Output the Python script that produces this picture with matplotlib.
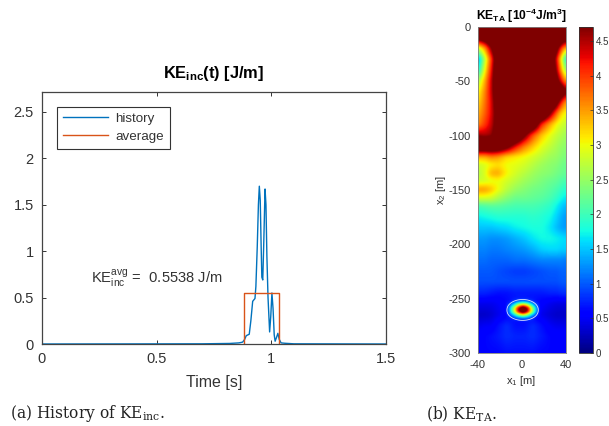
import numpy as np
import matplotlib
matplotlib.use('Agg')
import matplotlib.pyplot as plt

plt.rcParams['font.family'] = ['Liberation Sans', 'DejaVu Sans']
plt.rcParams['mathtext.fontset'] = 'custom'
plt.rcParams['mathtext.rm'] = 'Liberation Sans'
plt.rcParams['mathtext.bf'] = 'Liberation Sans:bold'
plt.rcParams['mathtext.default'] = 'regular'

# history of KE_inc
hist_t = [0, 0.4, 0.7, 0.82, 0.86, 0.876, 0.885, 0.892, 0.905, 0.912, 0.92, 0.93, 0.934, 0.94, 0.945, 0.949,
          0.953, 0.957, 0.96, 0.964, 0.968, 0.974, 0.978, 0.982, 0.987, 0.994, 0.999, 1.004, 1.009, 1.014,
          1.018, 1.024, 1.03, 1.036, 1.044, 1.06, 1.1, 1.5]
hist_v = [0, 0.001, 0.002, 0.006, 0.012, 0.02, 0.05, 0.09, 0.105, 0.25, 0.46, 0.49, 0.62, 1.05, 1.5, 1.70,
          1.55, 1.05, 0.72, 0.69, 1.05, 1.67, 1.5, 0.95, 0.5, 0.13, 0.3, 0.55, 0.38, 0.1,
          0.03, 0.07, 0.115, 0.05, 0.012, 0.008, 0.002, 0]
avg_t = [0.88, 0.88, 1.037, 1.037]
avg_v = [0, 0.5538, 0.5538, 0]

# KE_TA field, in 1e-4 J/m3
field_x = [-40, -34, -28, -22, -14, -6, 2, 10, 18, 26, 32, 36, 40]
field_y = [0, -10, -15, -20, -30, -40, -50, -60, -70, -80, -90, -100, -110, -120, -127, -135, -142, -150, -158,
           -165, -175, -185, -195, -205, -215, -225, -235, -245, -255, -265, -275, -285, -300]
field = [
    [6.0, 6.0, 6.0, 6.0, 6.0, 6.0, 6.0, 6.0, 6.0, 6.0, 6.0, 6.0, 6.0],
    [5.2, 5.6, 6.0, 6.0, 6.0, 6.0, 6.0, 6.0, 6.0, 6.0, 6.0, 5.6, 5.6],
    [4.0, 4.5, 5.3, 6.0, 6.0, 6.0, 6.0, 6.0, 6.0, 6.0, 5.6, 4.9, 4.4],
    [2.8, 3.5, 4.7, 5.8, 6.0, 6.0, 6.0, 6.0, 6.0, 6.0, 5.0, 4.0, 3.4],
    [1.3, 2.7, 4.0, 5.5, 6.0, 6.0, 6.0, 6.0, 6.0, 5.6, 4.2, 3.0, 1.8],
    [1.7, 3.0, 4.2, 5.6, 6.0, 6.0, 6.0, 6.0, 6.0, 5.6, 4.5, 3.4, 2.5],
    [2.6, 3.4, 4.4, 5.6, 6.0, 6.0, 6.0, 6.0, 6.0, 6.0, 5.0, 4.2, 3.5],
    [3.0, 3.6, 4.4, 5.5, 6.0, 6.0, 6.0, 6.0, 6.0, 6.0, 6.0, 5.6, 4.9],
    [3.2, 3.7, 4.3, 5.3, 6.0, 6.0, 6.0, 6.0, 6.0, 6.0, 5.0, 4.1, 3.5],
    [3.4, 3.8, 4.3, 5.1, 6.0, 6.0, 6.0, 6.0, 6.0, 4.7, 3.7, 3.2, 3.0],
    [3.6, 4.0, 4.4, 5.1, 6.0, 6.0, 6.0, 5.6, 4.1, 3.4, 3.0, 2.85, 2.75],
    [4.6, 4.5, 4.6, 5.3, 6.0, 6.0, 4.9, 3.9, 3.3, 2.95, 2.75, 2.65, 2.55],
    [5.7, 5.7, 5.7, 5.6, 5.1, 4.3, 3.7, 3.3, 2.95, 2.75, 2.6, 2.5, 2.45],
    [3.4, 3.4, 3.6, 3.5, 3.2, 3.1, 3.0, 2.85, 2.7, 2.55, 2.5, 2.4, 2.35],
    [2.8, 2.9, 3.05, 3.15, 3.0, 2.95, 2.85, 2.7, 2.55, 2.45, 2.4, 2.3, 2.25],
    [2.65, 2.9, 3.4, 3.45, 3.05, 2.85, 2.7, 2.55, 2.45, 2.4, 2.3, 2.25, 2.2],
    [2.8, 2.85, 2.95, 3.0, 2.85, 2.7, 2.55, 2.45, 2.35, 2.25, 2.2, 2.1, 2.05],
    [3.5, 3.5, 3.3, 3.0, 2.7, 2.5, 2.4, 2.3, 2.25, 2.15, 2.05, 1.95, 1.85],
    [2.85, 2.85, 2.8, 2.6, 2.4, 2.25, 2.25, 2.2, 2.15, 2.05, 1.9, 1.75, 1.65],
    [2.05, 2.1, 2.15, 2.15, 2.1, 2.05, 2.05, 2.05, 2.0, 1.9, 1.7, 1.55, 1.45],
    [1.7, 1.75, 1.8, 1.85, 1.85, 1.85, 1.85, 1.9, 1.85, 1.75, 1.55, 1.4, 1.3],
    [1.5, 1.5, 1.5, 1.55, 1.6, 1.7, 1.75, 1.8, 1.8, 1.65, 1.45, 1.35, 1.3],
    [1.3, 1.3, 1.25, 1.25, 1.3, 1.4, 1.5, 1.65, 1.75, 1.75, 1.7, 1.65, 1.6],
    [1.2, 1.2, 1.15, 1.15, 1.2, 1.25, 1.3, 1.4, 1.55, 1.6, 1.6, 1.55, 1.55],
    [1.1, 1.1, 1.05, 1.05, 1.05, 1.1, 1.1, 1.15, 1.2, 1.2, 1.2, 1.2, 1.15],
    [1.0, 1.0, 1.0, 0.95, 0.9, 0.85, 0.85, 0.9, 0.95, 1.0, 1.0, 1.05, 1.05],
    [0.95, 0.95, 0.95, 0.95, 0.95, 0.95, 0.95, 0.95, 0.95, 0.95, 0.95, 1.0, 1.0],
    [0.75, 0.75, 0.7, 0.65, 0.65, 0.7, 0.7, 0.7, 0.7, 0.75, 0.75, 0.8, 0.8],
    [0.45, 0.45, 0.45, 0.5, 0.6, 0.7, 0.7, 0.65, 0.55, 0.45, 0.4, 0.4, 0.4],
    [0.3, 0.3, 0.35, 0.45, 0.55, 0.65, 0.65, 0.55, 0.45, 0.35, 0.3, 0.3, 0.3],
    [0.45, 0.5, 0.5, 0.65, 0.8, 0.65, 0.65, 0.8, 0.65, 0.5, 0.45, 0.45, 0.45],
    [0.6, 0.6, 0.65, 0.7, 0.8, 0.75, 0.75, 0.8, 0.7, 0.6, 0.6, 0.6, 0.6],
    [0.6, 0.6, 0.6, 0.6, 0.65, 0.65, 0.65, 0.65, 0.6, 0.6, 0.6, 0.6, 0.6],
]

# focal spot, added on top of the field
spot_x = [-15, -11, -7, -3, 1, 5, 9, 13, 17]
spot_y = [-250, -253, -256, -259, -262, -265, -268, -271]
spot = [
    [0, 0, 0, 0, 0, 0, 0, 0, 0],
    [0, 0, 0.2, 0.45, 0.6, 0.45, 0.2, 0, 0],
    [0, 0.4, 1.1, 2.2, 2.8, 2.2, 1.1, 0.4, 0],
    [0, 0.8, 2.2, 3.9, 4.8, 3.9, 2.2, 0.8, 0],
    [0, 0.8, 2.2, 3.9, 4.8, 3.9, 2.2, 0.8, 0],
    [0, 0.4, 1.0, 1.9, 2.5, 1.9, 1.0, 0.4, 0],
    [0, 0, 0.2, 0.4, 0.5, 0.4, 0.2, 0, 0],
    [0, 0, 0, 0, 0, 0, 0, 0, 0],
]


def resample(table, x, y, xf, yf):
    # bilinear onto the fine grid, y lists run downwards
    table = np.array(table, dtype=float)
    cols = np.array([np.interp(-yf, -np.array(y), table[:, j]) for j in range(table.shape[1])]).T
    return np.array([np.interp(xf, x, row) for row in cols])


def smooth(a, n):
    k = np.ones(n) / n
    pad = n
    b = np.pad(a, pad, mode='edge')
    for _ in range(2):
        b = np.apply_along_axis(lambda r: np.convolve(r, k, mode='same'), 0, b)
        b = np.apply_along_axis(lambda r: np.convolve(r, k, mode='same'), 1, b)
    return b[pad:-pad, pad:-pad]


xf = np.linspace(-40, 40, 161)
yf = np.linspace(0, -300, 601)
base = smooth(resample(field, field_x, field_y, xf, yf), 7)
spot_fine = resample(spot, spot_x, spot_y, xf, yf)
hot = smooth(spot_fine, 5)
ring = smooth(spot_fine, 13)
ke_ta = base + hot

W, H = 609, 426
fig = plt.figure(figsize=(W / 100, H / 100), dpi=100)


def box(x0, x1, y0, y1):
    return [x0 / W, 1 - y1 / H, (x1 - x0) / W, (y1 - y0) / H]


dark = '#333333'

# left panel
ax = fig.add_axes(box(42, 385.5, 92, 344))
ax.plot(hist_t, hist_v, color='#0072BD', lw=1.0, label='history')
ax.plot(avg_t, avg_v, color='#D95319', lw=1.0, label='average')
ax.set_xlim(0, 1.5)
ax.set_ylim(0, 2.715)
ax.set_xticks([0, 0.5, 1, 1.5])
ax.set_xticklabels(['0', '0.5', '1', '1.5'])
ax.set_yticks([0, 0.5, 1, 1.5, 2, 2.5])
ax.set_yticklabels(['0', '0.5', '1', '1.5', '2', '2.5'])
ax.tick_params(direction='in', length=2.8, width=0.7, top=True, right=True, labelsize=10.5,
               colors=dark, pad=6)
for s in ax.spines.values():
    s.set_color('#444444')
    s.set_linewidth(0.9)
ax.set_xlabel('Time [s]', fontsize=11.5, color=dark, labelpad=6)
ax.set_title(r'KE$_{\mathbf{inc}}$(t) [J/m]', fontsize=11.8, fontweight='bold', color='black', pad=10)
leg = ax.legend(loc='upper left', bbox_to_anchor=(0.044, 0.94), fontsize=9.6, fancybox=False, framealpha=1,
                edgecolor=dark, borderaxespad=0, handlelength=3.4, handletextpad=0.55, labelspacing=0.42,
                borderpad=0.42)
leg.get_frame().set_linewidth(0.8)
for t in leg.get_texts():
    t.set_color(dark)
ax.text(0.213, 0.705, r'KE$_{inc}^{avg}$ =  0.5538 J/m', fontsize=10.6, color=dark, va='center')

# right panel
ax2 = fig.add_axes(box(477.5, 565.5, 27, 353))
im = ax2.imshow(ke_ta, extent=[-40, 40, -300, 0], origin='upper', aspect='auto', cmap='jet',
                vmin=0, vmax=4.7, interpolation='bilinear')
ax2.contour(xf, yf, ring, levels=[0.4], colors='white', linewidths=0.6, alpha=0.85)
ax2.set_xlim(-40, 40)
ax2.set_ylim(-300, 0)
ax2.set_xticks([-40, 0, 40])
ax2.set_yticks([0, -50, -100, -150, -200, -250, -300])
ax2.set_yticklabels(['0', '-50', '-100', '-150', '-200', '-250', '-300'])
ax2.set_xticklabels(['-40', '0', '40'])
ax2.tick_params(length=0, labelsize=8, colors=dark, pad=5)
for s in ax2.spines.values():
    s.set_color('#808080')
    s.set_linewidth(0.6)
ax2.set_xlabel(r'x$_1$ [m]', fontsize=8, color=dark, labelpad=3)
ax2.set_ylabel(r'x$_2$ [m]', fontsize=8, color=dark, labelpad=0.5)
ax2.set_title(r'KE$_{\mathbf{TA}}$ [10$^{\mathbf{-4}}$J/m$^{\mathbf{3}}$]', fontsize=8.7, fontweight='bold',
              color='black', pad=5)

cax = fig.add_axes(box(579, 592.5, 27, 353))
cb = fig.colorbar(im, cax=cax)
cb.set_ticks([0, 0.5, 1, 1.5, 2, 2.5, 3, 3.5, 4, 4.5])
cb.set_ticklabels(['0', '0.5', '1', '1.5', '2', '2.5', '3', '3.5', '4', '4.5'])
cb.ax.tick_params(direction='in', length=2, width=0.5, labelsize=7, colors=dark, pad=2.2)
cb.outline.set_edgecolor(dark)
cb.outline.set_linewidth(0.6)

# captions
fig.text(10 / W, 1 - 414 / H, r'(a) History of KE$_{inc}$.', family='DejaVu Serif', fontsize=11.2, color='#222222',
         va='center')
fig.text(426 / W, 1 - 414 / H, r'(b) KE$_{TA}$.', family='DejaVu Serif', fontsize=11.2, color='#222222',
         va='center')

fig.savefig('out.png', dpi=100)
